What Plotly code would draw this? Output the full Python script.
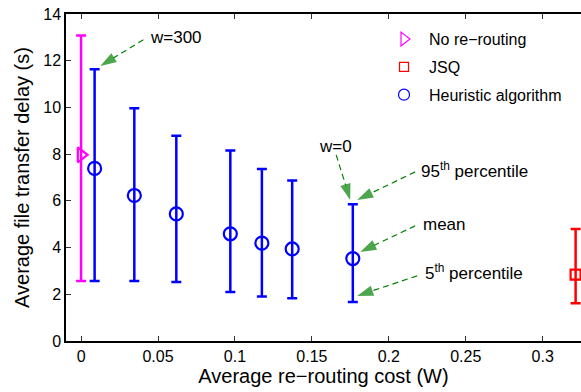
import plotly.graph_objects as go

# ---- data ----
heur_cost = [0.0088, 0.0346, 0.0619, 0.0970, 0.1175, 0.1372, 0.1766]
heur_mean = [7.39, 6.23, 5.44, 4.59, 4.19, 3.94, 3.53]
heur_p95 = [11.63, 9.97, 8.79, 8.16, 7.36, 6.87, 5.86]
heur_p5 = [2.57, 2.57, 2.53, 2.10, 1.91, 1.83, 1.67]

norr_cost = [0.0]
norr_mean = [7.97]
norr_p95 = [13.08]
norr_p5 = [2.57]

jsq_cost = [0.3214]
jsq_mean = [2.84]
jsq_p95 = [4.79]
jsq_p5 = [1.62]

xticks = [0, 0.05, 0.1, 0.15, 0.2, 0.25, 0.3]
xticklabels = ["0", "0.05", "0.1", "0.15", "0.2", "0.25", "0.3"]
yticks = [0, 2, 4, 6, 8, 10, 12, 14]

# annotation callouts: (text, text_x, text_y, xanchor, tail_x, tail_y, tip_x, tip_y)
callouts = [
    ("w=300", 0.0437, 13.00, "left", 0.0405, 12.90, 0.0125, 11.77),
    ("w=0", 0.1654, 8.32, "center", 0.1658, 7.97, 0.1749, 6.04),
    ("95<sup>th</sup> percentile", 0.2197, 7.33, "left", 0.2171, 7.24, 0.1794, 6.04),
    ("mean", 0.2211, 5.00, "left", 0.2171, 4.93, 0.1814, 3.81),
    ("5<sup>th</sup> percentile", 0.2223, 2.95, "left", 0.2184, 2.79, 0.1794, 1.93),
]

FONT = "Liberation Sans, Arial, Helvetica, sans-serif"
GREEN = "#008000"
MAG, RED, BLUE = "#ff00ff", "#ff0000", "#0000ff"


def errs(mean, hi, lo):
    return ([h - m for h, m in zip(hi, mean)], [m - l for m, l in zip(mean, lo)])


fig = go.Figure()

series = [
    ("No re\u2212routing", norr_cost, norr_mean, norr_p95, norr_p5, MAG,
     "triangle-right-open", 13, 12),
    ("JSQ", jsq_cost, jsq_mean, jsq_p95, jsq_p5, RED, "square-open", 10, 9),
    ("Heuristic algorithm", heur_cost, heur_mean, heur_p95, heur_p5, BLUE,
     "circle-open", 13, 11),
]

for i, (name, xs, m, hi, lo, col, sym, sz, lsz) in enumerate(series):
    up, dn = errs(m, hi, lo)
    fig.add_trace(go.Scatter(
        x=xs, y=m, mode="markers", name=name, showlegend=False,
        marker=dict(symbol=sym, size=sz, color=col, line=dict(width=2.2, color=col)),
        error_y=dict(type="data", symmetric=False, array=up, arrayminus=dn,
                     color=col, thickness=2.5, width=5),
    ))
    # legend-only entry with the thinner legend symbol
    fig.add_trace(go.Scatter(
        x=[None], y=[None], mode="markers", name=name, legendgroup="g%d" % i,
        marker=dict(symbol=sym, size=lsz, color=col, line=dict(width=1.2, color=col)),
    ))

# dashed green arrows
for txt, tx, ty, xa, x0, y0, x1, y1 in callouts:
    fig.add_trace(go.Scatter(
        x=[x0, x1], y=[y0, y1], mode="lines+markers", showlegend=False,
        hoverinfo="skip",
        line=dict(color=GREEN, width=1.2, dash="6px,4px"),
        marker=dict(symbol="arrow", size=[0, 17], angleref="previous",
                    color=GREEN, line=dict(width=0)),
    ))
    fig.add_annotation(x=tx, y=ty, text=txt, showarrow=False, xanchor=xa,
                       yanchor="middle", font=dict(size=17, color="black", family=FONT))

fig.update_layout(
    width=581, height=392,
    margin=dict(l=66, r=0, t=14, b=51),
    paper_bgcolor="white", plot_bgcolor="white",
    font=dict(family=FONT, size=16, color="black"),
    showlegend=True,
    legend=dict(x=0.6078, y=0.975, xanchor="left", yanchor="top",
                bgcolor="rgba(0,0,0,0)", font=dict(size=16),
                traceorder="grouped", tracegroupgap=4, itemwidth=40),
    xaxis=dict(range=[-0.0098, 0.3249], tickvals=xticks, ticktext=xticklabels,
               ticks="inside", ticklen=5, tickwidth=1, tickcolor="#333",
               showline=True, linecolor="black", linewidth=1.5, mirror="ticks",
               showgrid=False, zeroline=False, automargin=False,
               title=dict(text="Average re\u2212routing cost (W)", font=dict(size=20), standoff=4),
               tickfont=dict(size=16)),
    yaxis=dict(range=[0, 14], tickvals=yticks,
               ticks="inside", ticklen=5, tickwidth=1, tickcolor="#333",
               showline=True, linecolor="black", linewidth=1.5, mirror=False,
               showgrid=False, zeroline=False, automargin=False,
               title=dict(text="Average file transfer delay (s)", font=dict(size=20), standoff=8),
               tickfont=dict(size=16)),
)

fig.write_html("out.html", config={"displayModeBar": False},
               post_script="document.body.style.margin='0';document.body.style.padding='0';")
